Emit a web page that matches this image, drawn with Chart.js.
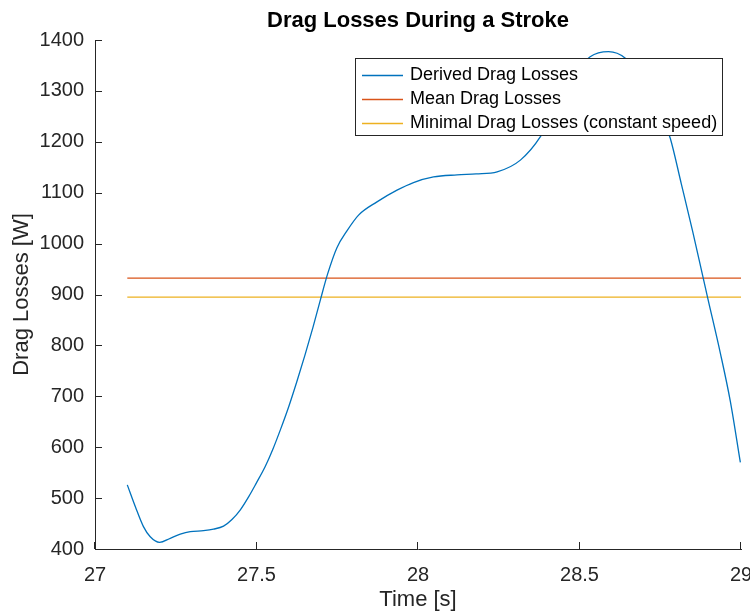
<!DOCTYPE html>
<html>
<head>
<meta charset="utf-8">
<title>Drag Losses During a Stroke</title>
<script src="https://cdn.jsdelivr.net/npm/chart.js@4.4.1/dist/chart.umd.min.js"></script>
<style>
  html, body { margin: 0; padding: 0; background: #ffffff; }
  #wrap { width: 750px; height: 612px; }
</style>
</head>
<body>
<div id="wrap"><canvas id="chart" width="750" height="612"></canvas></div>
<script>
// Time samples of the stroke [s]
const timeS = [
  27.100, 27.125, 27.150, 27.171, 27.200, 27.233, 27.264, 27.295, 27.336, 27.367,
  27.398, 27.424, 27.450, 27.476, 27.499, 27.527, 27.550, 27.575, 27.600, 27.625,
  27.650, 27.675, 27.698, 27.720, 27.749, 27.780, 27.816, 27.873, 27.935, 27.986,
  28.048, 28.121, 28.180, 28.245, 28.317, 28.379, 28.440, 28.495, 28.533, 28.590,
  28.642, 28.700, 28.745, 28.781, 28.815, 28.850, 28.882, 28.897, 28.936, 28.967,
  28.998
];

// Drag losses derived from the measured boat speed [W]
const derivedW = [
  526, 483, 444, 424, 413, 421, 429, 434, 436, 439,
  445, 458, 477, 503, 529, 562, 595, 636, 680, 729,
  781, 836, 890, 940, 992, 1025, 1056, 1082, 1105, 1120,
  1131, 1135, 1137, 1141, 1164, 1210, 1284, 1340, 1367, 1377,
  1364, 1318, 1268, 1207, 1118, 1025, 935, 893, 785, 690,
  570
];

// Reference levels [W] and the time span they cover [s]
const meanW = 932;
const minimalW = 895;
const levelSpan = [27.1, 29];

// Axis ticks
const xTicks = [27, 27.5, 28, 28.5, 29];
const yTicks = [400, 500, 600, 700, 800, 900, 1000, 1100, 1200, 1300, 1400];

const seriesLabels = [
  'Derived Drag Losses',
  'Mean Drag Losses',
  'Minimal Drag Losses (constant speed)'
];

const FONT = "'Liberation Sans', Arial, Helvetica, sans-serif";
const AXIS_COLOR = '#262626';
const COLORS = ['#0072BD', '#D95319', '#EDB120'];

// Tick marks pointing into the plot area
const inwardTicks = {
  id: 'inwardTicks',
  afterDraw(chart) {
    const { ctx, chartArea: a, scales: { x, y } } = chart;
    const len = 7;
    ctx.save();
    ctx.strokeStyle = AXIS_COLOR;
    ctx.lineWidth = 1;
    ctx.beginPath();
    x.ticks.forEach(t => {
      const px = Math.round(x.getPixelForValue(t.value)) - 0.5;
      ctx.moveTo(px, a.bottom);
      ctx.lineTo(px, a.bottom - len);
    });
    y.ticks.forEach(t => {
      const py = Math.round(y.getPixelForValue(t.value)) + 0.5;
      ctx.moveTo(a.left, py);
      ctx.lineTo(a.left + len, py);
    });
    ctx.stroke();
    ctx.restore();
  }
};

// Boxed legend in the upper right of the axes
const boxedLegend = {
  id: 'boxedLegend',
  afterDatasetsDraw(chart) {
    const { ctx } = chart;
    const box = { x: 355.5, y: 58.5, w: 367, h: 77 };
    const rowY = [75, 99, 123];
    ctx.save();
    ctx.fillStyle = '#ffffff';
    ctx.fillRect(box.x, box.y, box.w, box.h);
    ctx.strokeStyle = AXIS_COLOR;
    ctx.lineWidth = 1;
    ctx.strokeRect(box.x, box.y, box.w, box.h);
    chart.data.datasets.forEach((ds, i) => {
      ctx.strokeStyle = ds.borderColor;
      ctx.lineWidth = 1.3;
      ctx.beginPath();
      ctx.moveTo(362, rowY[i] + 0.5);
      ctx.lineTo(403, rowY[i] + 0.5);
      ctx.stroke();
      ctx.fillStyle = '#000000';
      ctx.font = '18px ' + FONT;
      ctx.textAlign = 'left';
      ctx.textBaseline = 'middle';
      ctx.fillText(ds.label, 410, rowY[i]);
    });
    ctx.restore();
  }
};

const derivedPoints = timeS.map((t, i) => ({ x: t, y: derivedW[i] }));
const meanPoints = levelSpan.map(t => ({ x: t, y: meanW }));
const minimalPoints = levelSpan.map(t => ({ x: t, y: minimalW }));

new Chart(document.getElementById('chart'), {
  type: 'line',
  data: {
    datasets: [
      { label: seriesLabels[0], data: derivedPoints, borderColor: COLORS[0], borderWidth: 1.3,
        pointRadius: 0, cubicInterpolationMode: 'monotone', fill: false },
      { label: seriesLabels[1], data: meanPoints, borderColor: COLORS[1], borderWidth: 1.3,
        pointRadius: 0, fill: false },
      { label: seriesLabels[2], data: minimalPoints, borderColor: COLORS[2], borderWidth: 1.3,
        pointRadius: 0, fill: false }
    ]
  },
  options: {
    responsive: false,
    animation: false,
    devicePixelRatio: 1,
    layout: { padding: { left: 0, right: 9, top: 0, bottom: 0 } },
    plugins: {
      legend: { display: false },
      tooltip: { enabled: false },
      title: {
        display: true,
        text: 'Drag Losses During a Stroke',
        color: '#000000',
        fullSize: false,
        font: { family: FONT, size: 22, weight: 'bold' },
        padding: { top: 7.8, bottom: 5.8 }
      }
    },
    scales: {
      x: {
        type: 'linear',
        min: 27,
        max: 29,
        afterBuildTicks: s => { s.ticks = xTicks.map(v => ({ value: v })); },
        afterFit: s => { s.height = 63; s.paddingLeft = 0; s.paddingRight = 0; },
        grid: { display: false, drawTicks: false },
        border: { display: true, color: AXIS_COLOR, width: 1 },
        ticks: {
          color: AXIS_COLOR,
          font: { family: FONT, size: 20 },
          padding: 14,
          maxRotation: 0,
          callback: v => String(v)
        },
        title: {
          display: true,
          text: 'Time [s]',
          color: AXIS_COLOR,
          font: { family: FONT, size: 22, lineHeight: 1.1 },
          padding: { top: 0, bottom: 0 }
        }
      },
      y: {
        type: 'linear',
        min: 400,
        max: 1400,
        afterBuildTicks: s => { s.ticks = yTicks.map(v => ({ value: v })); },
        afterFit: s => { s.width = 95; s.paddingTop = 0; s.paddingBottom = 0; },
        grid: { display: false, drawTicks: false },
        border: { display: true, color: AXIS_COLOR, width: 1 },
        ticks: {
          color: AXIS_COLOR,
          font: { family: FONT, size: 20 },
          padding: 11,
          callback: v => String(v)
        },
        title: {
          display: true,
          text: 'Drag Losses [W]',
          color: AXIS_COLOR,
          font: { family: FONT, size: 22, lineHeight: 1.1 },
          padding: { top: 9.6, bottom: 0 }
        }
      }
    }
  },
  plugins: [inwardTicks, boxedLegend]
});
</script>
</body>
</html>
